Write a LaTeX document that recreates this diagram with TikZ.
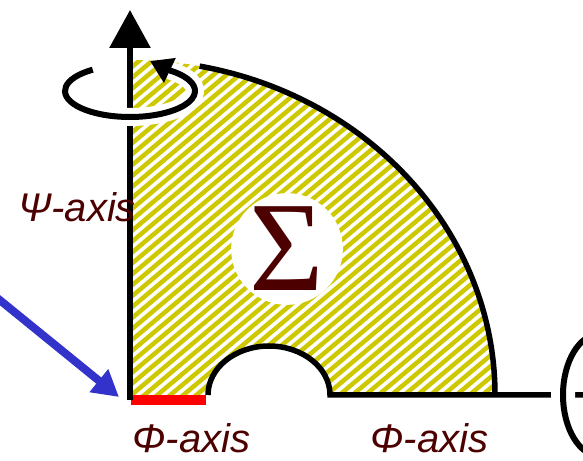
\documentclass[tikz,border=0pt]{standalone}
\usepackage{fontspec}
\setmainfont{Liberation Sans}
\newfontfamily\sigmafont{Liberation Serif}
\usetikzlibrary{arrows.meta}
\definecolor{labelmaroon}{RGB}{77,0,0}
\definecolor{hatchyellow}{RGB}{206,200,0}
\definecolor{pointerblue}{RGB}{51,51,204}
\definecolor{barred}{RGB}{255,0,0}

\begin{document}
\begin{tikzpicture}[x=1pt, y=1pt,
      axislabel/.style={font=\fontsize{40}{44}\selectfont\itshape, text=labelmaroon, inner sep=0pt, anchor=base west},
      outline/.style={line width=5.5pt, black},
      halo/.style={line width=18pt, white},
      hatchline/.style={line width=4.5pt, hatchyellow}
    ]
      \useasboundingbox (0,0) rectangle (583,460);
      \coordinate (O) at (130,65);
      \coordinate (rotC) at (130,369);
      \coordinate (spinC) at (600,65);

      % hatched region
      \begin{scope}
        \clip (O) -- (130,400) arc[start angle=90, end angle=0, x radius=365, y radius=335]
          -- (330,65) arc[start angle=0, end angle=180, x radius=61, y radius=49] -- cycle;
        \foreach \c in {-440,-427,...,600}
          \draw[hatchline] (\c,0) -- ++(500,420);
      \end{scope}

      \node[circle, fill=white, minimum size=110pt, inner sep=0pt, text=labelmaroon,
            font=\sigmafont\fontsize{128}{128}\selectfont] (sigma) at (287,211) {Σ};

      % boundary
      \draw[outline] (O) ++(79:365 and 335) arc[start angle=79, end angle=0, x radius=365, y radius=335];
      \draw[outline] (583,65) -- (330,65) arc[start angle=0, end angle=180, x radius=61, y radius=49];
      \draw[barred, line width=10pt] (131,60) -- (206,60);
      \draw[outline, line width=6pt, -{Triangle[length=38pt, width=40pt]}] (130,60) -- (130,450);

      % rotations
      \draw[halo] (rotC) ++(125:65 and 26) arc[start angle=125, end angle=412, x radius=65, y radius=26];
      \draw[line width=6pt, -{Triangle[length=22pt, width=26pt]}]
        (rotC) ++(125:65 and 26) arc[start angle=125, end angle=412, x radius=65, y radius=26] -- (150,399);
      \draw[line width=24pt, white] (spinC) ellipse[x radius=37, y radius=61];
      \draw[line width=6pt] (spinC) ellipse[x radius=37, y radius=61];

      \node[axislabel] (psilabel) at (18,238) {Ψ-axis};
      \node[axislabel] (philabelA) at (132,8) {Φ-axis};
      \node[axislabel] (philabelB) at (370,8) {Φ-axis};

      \coordinate (ptrStart) at (-4,163);
      \coordinate (ptrEnd) at (119,63);
      \draw[pointerblue, line width=8pt, -{Triangle[length=26pt, width=28pt]}] (ptrStart) -- (ptrEnd);
    \end{tikzpicture}
\end{document}
